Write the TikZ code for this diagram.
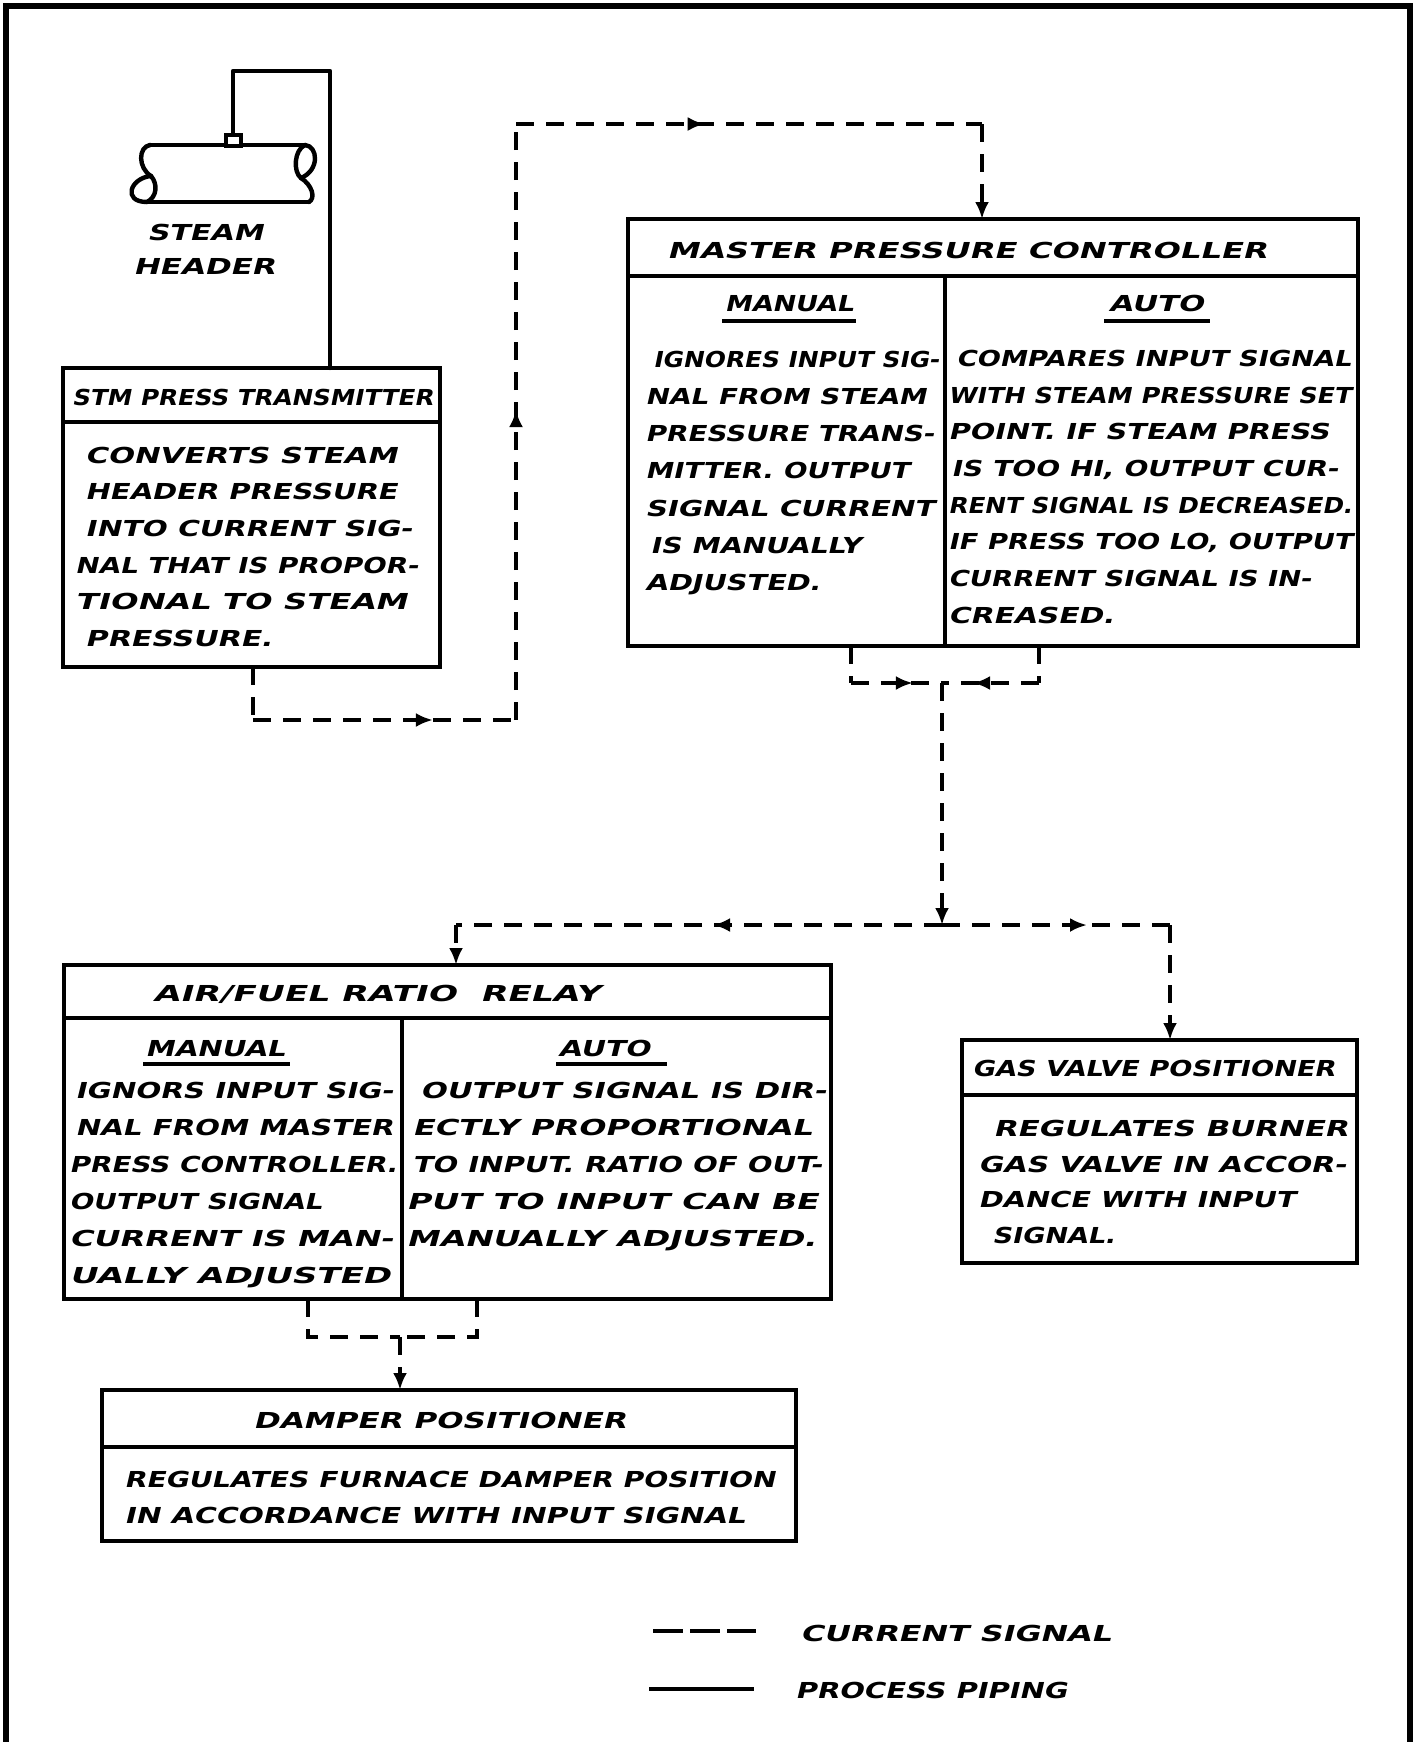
\documentclass[tikz,border=0pt]{standalone}
\usepackage{fontspec}
\usepackage{graphicx}
\newfontfamily\hand{DejaVu Sans}[UprightFont={* Bold}, FakeSlant=0.18]
\usetikzlibrary{arrows.meta,decorations.markings}

% one drawing unit = 0.5pt; lines of lettering are stretched to a given width
\newlength\pxu \setlength\pxu{0.5pt}
\newcommand\fl[2]{\resizebox{#1\pxu}{\height}{#2}}

\tikzset{
  every node/.style={inner sep=0pt, outer sep=0pt},
  box/.style={draw, rectangle, line width=2.4pt, anchor=north west},
  bx/.style 2 args={minimum width=#1*0.5pt, minimum height=#2*0.5pt},
  rule/.style={line width=1.9pt},
  sig/.style={line width=2.2pt, dash pattern=on 9pt off 6pt},
  tipend/.style={-{Latex[length=8.5pt,width=7pt]}},
  marr/.style={postaction={decorate,decoration={markings,
      mark=at position #1 with {\arrow{Latex[length=8.5pt,width=7pt]}}}}},
  pipe/.style={line width=2.2pt, line cap=round, line join=round},
  lbl/.style={font={\hand\fontsize{11}{14}\selectfont}},
  txt/.style={font={\hand\fontsize{11}{#1}\selectfont}, align=left, anchor=north west},
}

\begin{document}
\begin{tikzpicture}[x=0.5pt, y=-0.5pt]
\useasboundingbox (0,0) rectangle (1417,1742);

% frame
\draw[line width=2.8pt] (6,1742) -- (6,6) -- (1410,6) -- (1410,1742);

% ---- steam header (broken pipe) ----
\draw[pipe] (150,145) -- (305,145);
\draw[pipe] (147,202) -- (309,202);
\draw[pipe] (150,145) .. controls (138,147) and (138,168) .. (151,176)
                      .. controls (158,184) and (157,197) .. (147,202);
\draw[pipe] (151,176) .. controls (130,178) and (122,202) .. (147,202);
\draw[pipe] (305,145) .. controls (318,146) and (320,170) .. (301,178);
\draw[pipe] (305,145) .. controls (294,150) and (293,172) .. (301,178);
\draw[pipe] (301,178) .. controls (312,185) and (316,198) .. (309,202);
\node[lbl, anchor=base west] (lab-steam) at (147,240) {\fl{116}{STEAM}};
\node[lbl, anchor=base west] (lab-header) at (133,274) {\fl{142}{HEADER}};

% ---- boxes ----
\node[box, bx={377}{299}] (stm) at (63,368) {};
\node[box, bx={730}{427}] (mpc) at (628,219) {};
\node[box, bx={767}{334}] (afr) at (64,965) {};
\node[box, bx={395}{223}] (gvp) at (962,1040) {};
\node[box, bx={694}{151}] (dmp) at (102,1390) {};

% header rows and column splits
\draw[rule] (63,422) -- (440,422);
\draw[rule] (628,276) -- (1358,276);
\draw[rule] (945,276) -- (945,646);
\draw[rule] (64,1018) -- (831,1018);
\draw[rule] (402,1018) -- (402,1299);
\draw[rule] (962,1095) -- (1357,1095);
\draw[rule] (102,1447) -- (796,1447);

% ---- process piping: tap on header to transmitter ----
\coordinate (tap) at (233,140);
\coordinate (p1) at (233,71);
\coordinate (p2) at (330,71);
\draw[pipe] (tap) -- (p1) -- (p2) -- (p2 |- stm.north);
\draw[line width=1.8pt, fill=white] (226,135) rectangle (241,146);

% ---- titles ----
\node[lbl, anchor=base] (stm-head) at (252.5,405) {\fl{361}{STM PRESS TRANSMITTER}};
\node[lbl, anchor=base] (mpc-head) at (967,258) {\fl{600}{MASTER PRESSURE CONTROLLER}};
\node[lbl, anchor=base] (mpc-man) at (789,311) {\fl{129}{MANUAL}};
\node[lbl, anchor=base] (mpc-auto) at (1156,311) {\fl{95}{AUTO}};
\draw[rule] (722,321) -- (856,321);
\draw[rule] (1104,321) -- (1210,321);
\node[lbl, anchor=base] (afr-head) at (376.5,1001) {\fl{447}{AIR/FUEL RATIO\ \ RELAY}};
\node[lbl, anchor=base] (afr-man) at (215,1056) {\fl{140}{MANUAL}};
\node[lbl, anchor=base] (afr-auto) at (604,1056) {\fl{92}{AUTO}};
\draw[rule] (143,1064) -- (290,1064);
\draw[rule] (556,1064) -- (667,1064);
\node[lbl, anchor=base] (gvp-head) at (1153.5,1076) {\fl{363}{GAS VALVE POSITIONER}};
\node[lbl, anchor=base] (dmp-head) at (439.5,1428) {\fl{373}{DAMPER POSITIONER}};

% ---- descriptions ----
\node[txt=18.3pt] (stm-body) at (75,447) {%
  \hspace*{10\pxu}\fl{312}{CONVERTS STEAM}\\
  \hspace*{10\pxu}\fl{312}{HEADER PRESSURE}\\
  \hspace*{10\pxu}\fl{327}{INTO CURRENT SIG-}\\
  \fl{343}{NAL THAT IS PROPOR-}\\
  \fl{332}{TIONAL TO STEAM}\\
  \hspace*{10\pxu}\fl{187}{PRESSURE.}};

\node[txt=18.6pt] (mpc-man-body) at (645,351) {%
  \hspace*{8\pxu}\fl{286}{IGNORES INPUT SIG-}\\
  \fl{281}{NAL FROM STEAM}\\
  \fl{289}{PRESSURE TRANS-}\\
  \fl{264}{MITTER. OUTPUT}\\
  \fl{289}{SIGNAL CURRENT}\\
  \hspace*{5\pxu}\fl{211}{IS MANUALLY}\\
  \fl{175}{ADJUSTED.}};

\node[txt=18.35pt] (mpc-auto-body) at (948,350) {%
  \hspace*{8\pxu}\fl{395}{COMPARES INPUT SIGNAL}\\
  \fl{403}{WITH STEAM PRESSURE SET}\\
  \fl{381}{POINT. IF STEAM PRESS}\\
  \hspace*{3\pxu}\fl{387}{IS TOO HI, OUTPUT CUR-}\\
  \fl{404}{RENT SIGNAL IS DECREASED.}\\
  \fl{404}{IF PRESS TOO LO, OUTPUT}\\
  \fl{363}{CURRENT SIGNAL IS IN-}\\
  \fl{166}{CREASED.}};

\node[txt=18.5pt] (afr-man-body) at (69,1082) {%
  \hspace*{6\pxu}\fl{318}{IGNORS INPUT SIG-}\\
  \hspace*{6\pxu}\fl{318}{NAL FROM MASTER}\\
  \fl{328}{PRESS CONTROLLER.}\\
  \fl{253}{OUTPUT SIGNAL}\\
  \fl{324}{CURRENT IS MAN-}\\
  \fl{321}{UALLY ADJUSTED}};

\node[txt=18.5pt] (afr-auto-body) at (406,1082) {%
  \hspace*{14\pxu}\fl{406}{OUTPUT SIGNAL IS DIR-}\\
  \hspace*{6\pxu}\fl{400}{ECTLY PROPORTIONAL}\\
  \hspace*{6\pxu}\fl{410}{TO INPUT. RATIO OF OUT-}\\
  \fl{412}{PUT TO INPUT CAN BE}\\
  \fl{410}{MANUALLY ADJUSTED.}};

\node[txt=17.85pt] (gvp-body) at (978,1120) {%
  \hspace*{15\pxu}\fl{355}{REGULATES BURNER}\\
  \fl{368}{GAS VALVE IN ACCOR-}\\
  \fl{317}{DANCE WITH INPUT}\\
  \hspace*{14\pxu}\fl{123}{SIGNAL.}};

\node[txt=18pt] (dmp-body) at (124,1471) {%
  \fl{651}{REGULATES FURNACE DAMPER POSITION}\\
  \fl{621}{IN ACCORDANCE WITH INPUT SIGNAL}};

% ---- current signal: transmitter to master controller ----
\coordinate (a1) at (253,720);
\coordinate (a2) at (516,720);
\coordinate (a3) at (516,124);
\coordinate (a4) at (982,124);
\draw[sig] (stm.south -| a1) -- (a1);
\draw[sig, marr=0.684] (a1) -- (a2);
\draw[sig, marr=0.52] (a2) -- (a3);
\draw[sig, marr=0.405] (a3) -- (a4);
\draw[sig, tipend] (a4) -- (a4 |- mpc.north);

% ---- master controller output (manual / auto) ----
\coordinate (b1) at (851,683);
\coordinate (b2) at (1039,683);
\coordinate (j1) at (942,683);
\coordinate (j2) at (942,925);
\draw[sig] (mpc.south -| b1) -- (b1);
\draw[sig, marr=0.68] (b1) -- (j1);
\draw[sig] (mpc.south -| b2) -- (b2);
\draw[sig, marr=0.68] (b2) -- (j1);
\draw[sig, tipend] (j1) -- (j2);

% ---- split to ratio relay and gas valve ----
\coordinate (d1) at (456,925);
\coordinate (d2) at (1170,925);
\draw[sig, marr=0.471] (j2) -- (d1);
\draw[sig, tipend] (d1) -- (d1 |- afr.north);
\draw[sig, marr=0.636] (j2) -- (d2);
\draw[sig, tipend] (d2) -- (d2 |- gvp.north);

% ---- ratio relay output to damper ----
\coordinate (e1) at (308,1337);
\coordinate (e2) at (477,1337);
\coordinate (j3) at (400,1337);
\draw[sig] (afr.south -| e1) -- (e1) -- (j3);
\draw[sig] (afr.south -| e2) -- (e2) -- (j3);
\draw[sig, tipend] (j3) -- (j3 |- dmp.north);

% ---- legend ----
\coordinate (lg1) at (653,1631);
\coordinate (lg2) at (756,1631);
\coordinate (lg3) at (649,1689);
\coordinate (lg4) at (754,1689);
\draw[line width=2.4pt, dash pattern=on 15pt off 3.5pt] (lg1) -- (lg2);
\draw[line width=2.2pt] (lg3) -- (lg4);
\node[lbl, anchor=base west] (lg-cur) at (800,1641) {\fl{311}{CURRENT SIGNAL}};
\node[lbl, anchor=base west] (lg-pipe) at (795,1698) {\fl{272}{PROCESS PIPING}};
\end{tikzpicture}
\end{document}
